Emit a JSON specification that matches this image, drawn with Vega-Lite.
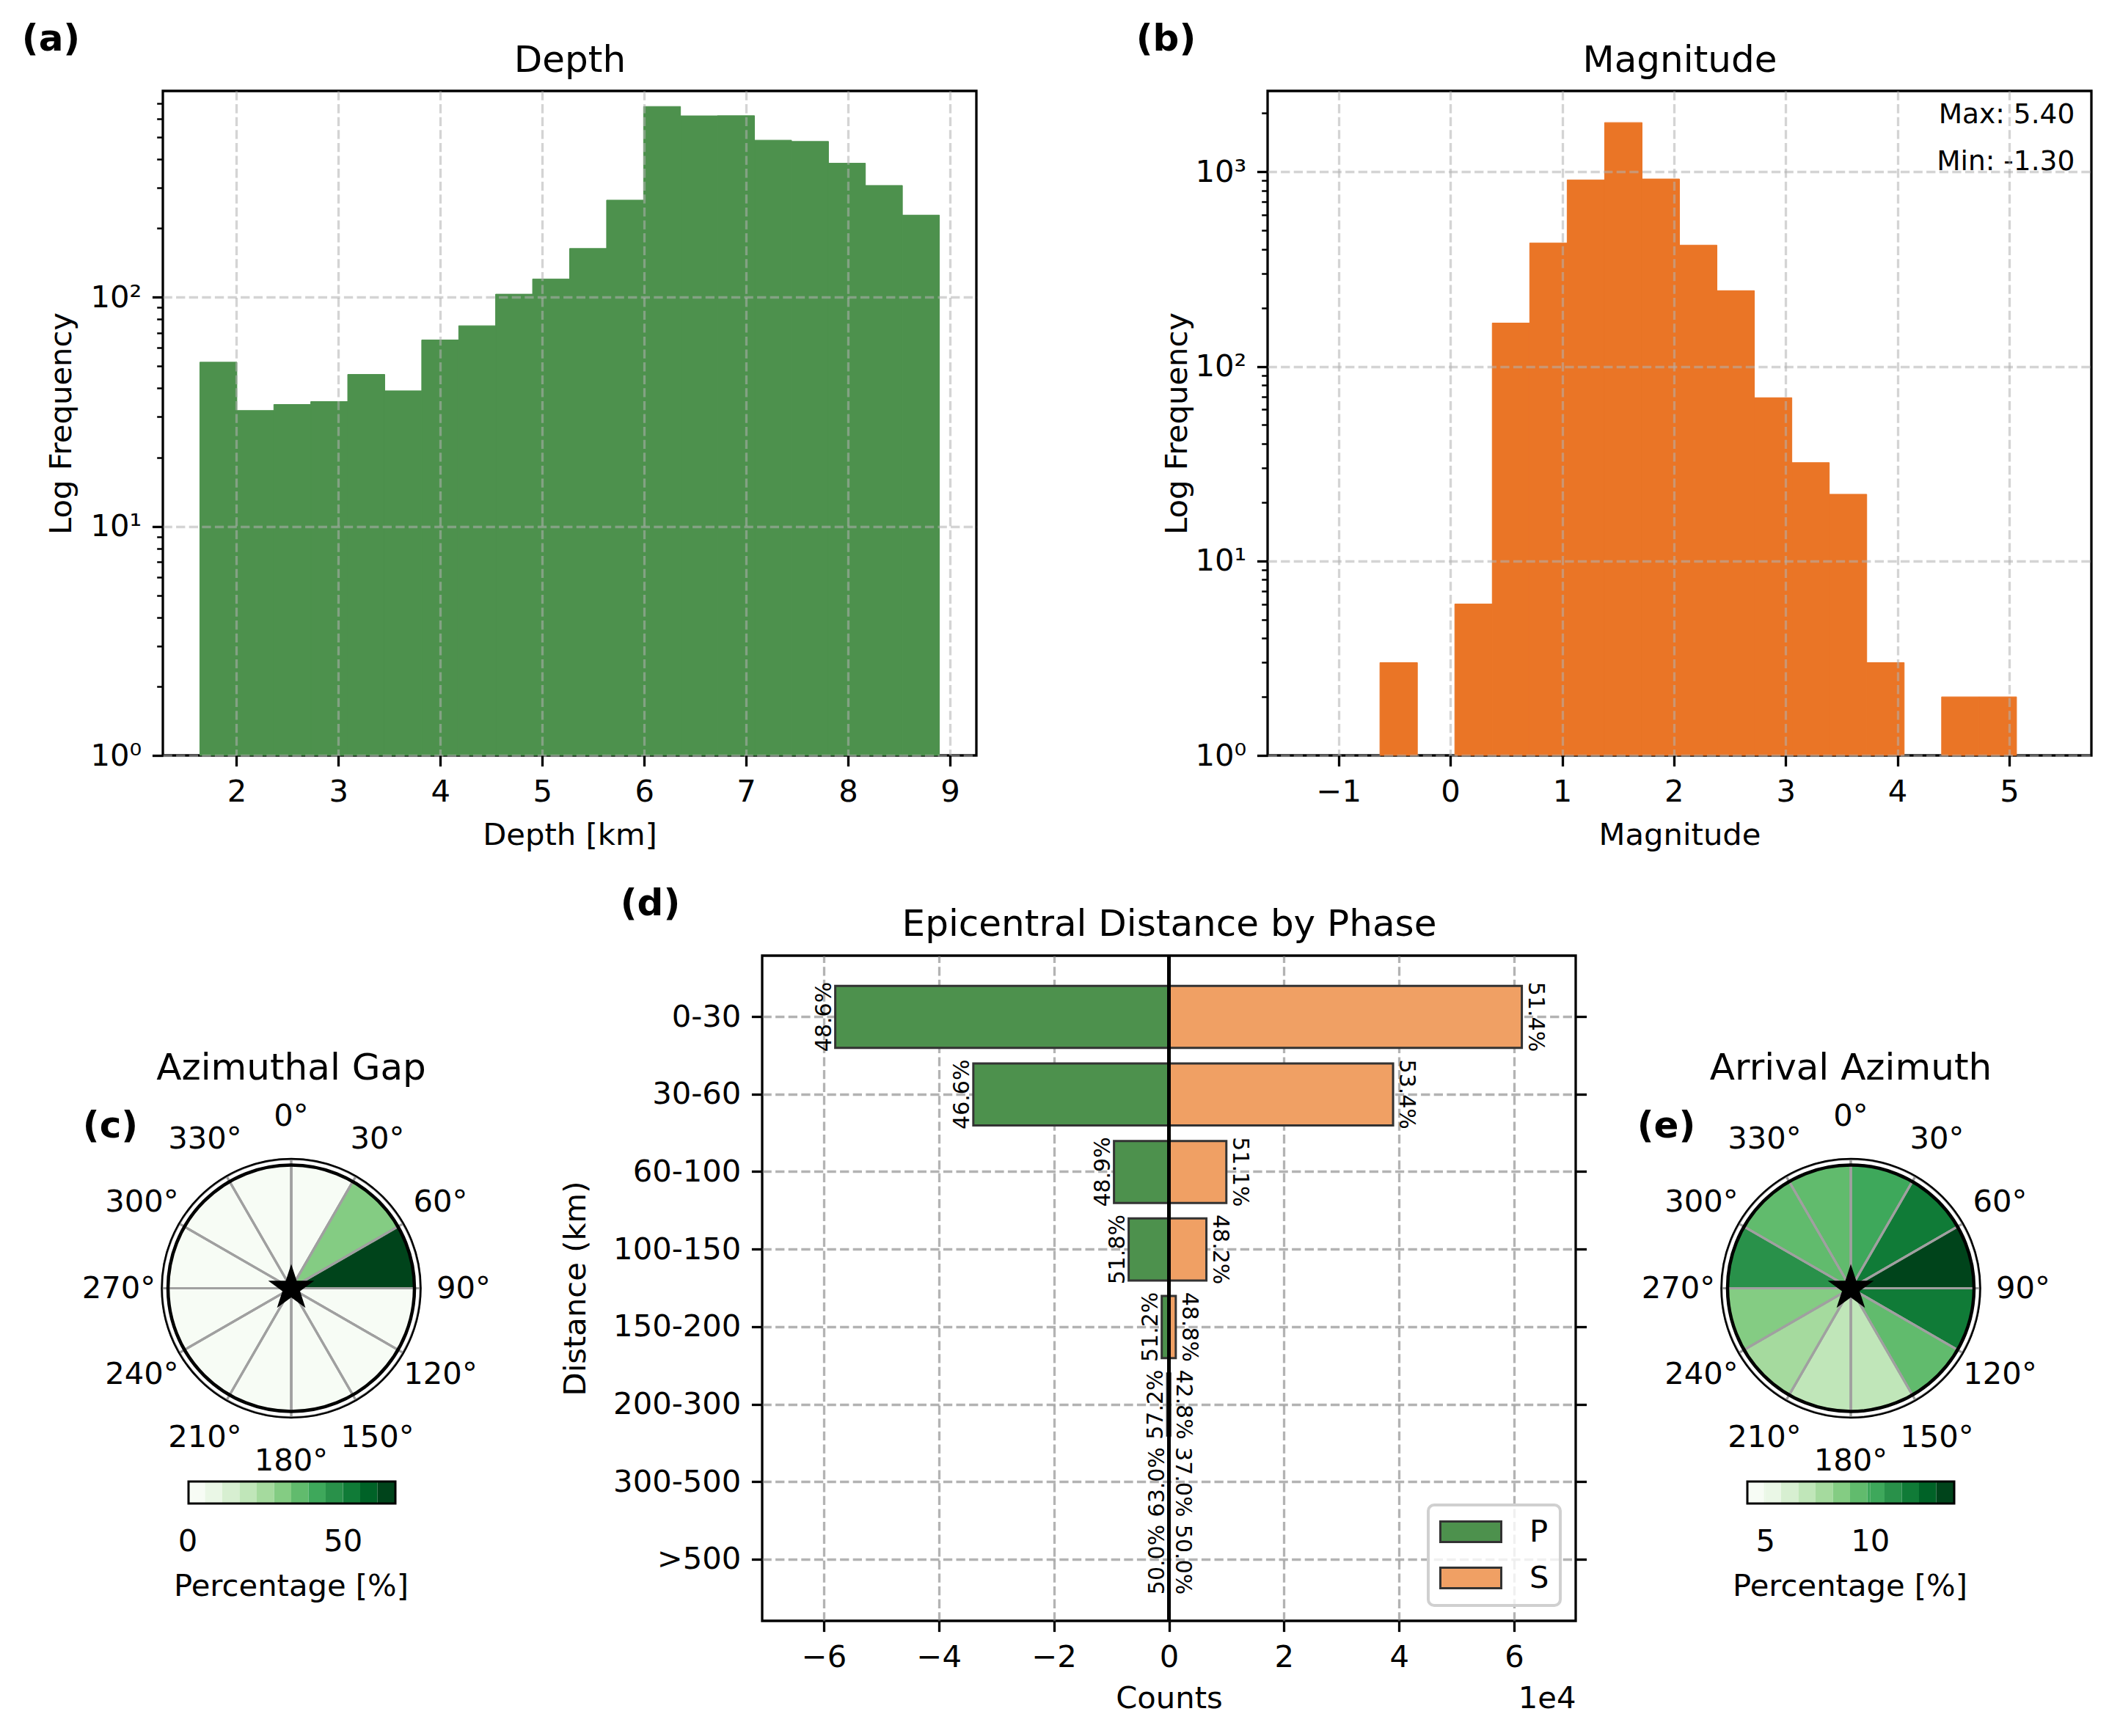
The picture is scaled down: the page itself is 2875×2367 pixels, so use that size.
{
  "$schema": "https://vega.github.io/schema/vega-lite/v6.json",
  "background": "white",
  "padding": {"left": 27, "top": 26, "right": 10, "bottom": 10},
  "datasets": {
    "depth": [
      {"bin_start": 1.640, "bin_end": 2.003, "count": 52},
      {"bin_start": 2.003, "bin_end": 2.366, "count": 32},
      {"bin_start": 2.366, "bin_end": 2.728, "count": 34},
      {"bin_start": 2.728, "bin_end": 3.091, "count": 35},
      {"bin_start": 3.091, "bin_end": 3.454, "count": 46},
      {"bin_start": 3.454, "bin_end": 3.817, "count": 39},
      {"bin_start": 3.817, "bin_end": 4.180, "count": 65},
      {"bin_start": 4.180, "bin_end": 4.542, "count": 75},
      {"bin_start": 4.542, "bin_end": 4.905, "count": 103},
      {"bin_start": 4.905, "bin_end": 5.268, "count": 120},
      {"bin_start": 5.268, "bin_end": 5.631, "count": 163},
      {"bin_start": 5.631, "bin_end": 5.994, "count": 265},
      {"bin_start": 5.994, "bin_end": 6.356, "count": 679},
      {"bin_start": 6.356, "bin_end": 6.719, "count": 618},
      {"bin_start": 6.719, "bin_end": 7.082, "count": 619},
      {"bin_start": 7.082, "bin_end": 7.445, "count": 484},
      {"bin_start": 7.445, "bin_end": 7.808, "count": 478},
      {"bin_start": 7.808, "bin_end": 8.170, "count": 384},
      {"bin_start": 8.170, "bin_end": 8.533, "count": 307},
      {"bin_start": 8.533, "bin_end": 8.896, "count": 228}
    ],
    "mag": [
      {"bin_start": -1.300, "bin_end": -0.965, "count": 1},
      {"bin_start": -0.630, "bin_end": -0.295, "count": 3},
      {"bin_start": 0.040, "bin_end": 0.375, "count": 6},
      {"bin_start": 0.375, "bin_end": 0.710, "count": 167},
      {"bin_start": 0.710, "bin_end": 1.045, "count": 431},
      {"bin_start": 1.045, "bin_end": 1.380, "count": 909},
      {"bin_start": 1.380, "bin_end": 1.715, "count": 1792},
      {"bin_start": 1.715, "bin_end": 2.050, "count": 919},
      {"bin_start": 2.050, "bin_end": 2.385, "count": 420},
      {"bin_start": 2.385, "bin_end": 2.720, "count": 245},
      {"bin_start": 2.720, "bin_end": 3.055, "count": 69},
      {"bin_start": 3.055, "bin_end": 3.390, "count": 32},
      {"bin_start": 3.390, "bin_end": 3.725, "count": 22},
      {"bin_start": 3.725, "bin_end": 4.060, "count": 3},
      {"bin_start": 4.395, "bin_end": 4.730, "count": 2},
      {"bin_start": 4.730, "bin_end": 5.065, "count": 2},
      {"bin_start": 5.065, "bin_end": 5.400, "count": 1}
    ],
    "dist": [
      {"range": "0-30", "phase": "P", "count": -58000, "pct": "48.6%"},
      {"range": "0-30", "phase": "S", "count": 61340, "pct": "51.4%"},
      {"range": "30-60", "phase": "P", "count": -34000, "pct": "46.6%"},
      {"range": "30-60", "phase": "S", "count": 38960, "pct": "53.4%"},
      {"range": "60-100", "phase": "P", "count": -9550, "pct": "48.9%"},
      {"range": "60-100", "phase": "S", "count": 9980, "pct": "51.1%"},
      {"range": "100-150", "phase": "P", "count": -7000, "pct": "51.8%"},
      {"range": "100-150", "phase": "S", "count": 6510, "pct": "48.2%"},
      {"range": "150-200", "phase": "P", "count": -1250, "pct": "51.2%"},
      {"range": "150-200", "phase": "S", "count": 1190, "pct": "48.8%"},
      {"range": "200-300", "phase": "P", "count": -300, "pct": "57.2%"},
      {"range": "200-300", "phase": "S", "count": 224, "pct": "42.8%"},
      {"range": "300-500", "phase": "P", "count": -63, "pct": "63.0%"},
      {"range": "300-500", "phase": "S", "count": 37, "pct": "37.0%"},
      {"range": ">500", "phase": "P", "count": -2, "pct": "50.0%"},
      {"range": ">500", "phase": "S", "count": 2, "pct": "50.0%"}
    ],
    "gap": [
      {"a0": 0, "a1": 30, "pct": 0.4},
      {"a0": 30, "a1": 60, "pct": 30.3},
      {"a0": 60, "a1": 90, "pct": 66.6},
      {"a0": 90, "a1": 120, "pct": 0.6},
      {"a0": 120, "a1": 150, "pct": 0.5},
      {"a0": 150, "a1": 180, "pct": 0.3},
      {"a0": 180, "a1": 210, "pct": 0.4},
      {"a0": 210, "a1": 240, "pct": 0.3},
      {"a0": 240, "a1": 270, "pct": 0.3},
      {"a0": 270, "a1": 300, "pct": 0.2},
      {"a0": 300, "a1": 330, "pct": 0.0},
      {"a0": 330, "a1": 360, "pct": 0.0}
    ],
    "az": [
      {"a0": 0, "a1": 30, "pct": 10.2},
      {"a0": 30, "a1": 60, "pct": 11.9},
      {"a0": 60, "a1": 90, "pct": 13.96},
      {"a0": 90, "a1": 120, "pct": 12.0},
      {"a0": 120, "a1": 150, "pct": 9.3},
      {"a0": 150, "a1": 180, "pct": 6.9},
      {"a0": 180, "a1": 210, "pct": 7.0},
      {"a0": 210, "a1": 240, "pct": 7.8},
      {"a0": 240, "a1": 270, "pct": 8.6},
      {"a0": 270, "a1": 300, "pct": 11.1},
      {"a0": 300, "a1": 330, "pct": 9.4},
      {"a0": 330, "a1": 360, "pct": 9.5}
    ],
    "angles": [
      {"angle": 0, "label": "0°"}, {"angle": 30, "label": "30°"}, {"angle": 60, "label": "60°"},
      {"angle": 90, "label": "90°"}, {"angle": 120, "label": "120°"}, {"angle": 150, "label": "150°"},
      {"angle": 180, "label": "180°"}, {"angle": 210, "label": "210°"}, {"angle": 240, "label": "240°"},
      {"angle": 270, "label": "270°"}, {"angle": 300, "label": "300°"}, {"angle": 330, "label": "330°"}
    ],
    "one": [{}]
  },
  "config": {
    "font": "DejaVu Sans",
    "view": {"stroke": "black", "strokeWidth": 3.3},
    "axis": {
      "labelFont": "DejaVu Sans", "labelFontSize": 41.7, "labelColor": "black",
      "titleFont": "DejaVu Sans", "titleFontSize": 41.7, "titleFontWeight": "normal", "titleColor": "black",
      "tickColor": "black", "tickWidth": 3.3, "tickSize": 14.6, "labelPadding": 14.6,
      "domain": false, "labelFlush": false, "labelOverlap": false, "labelLimit": 0,
      "gridDash": [12.3, 5.3], "gridWidth": 3.3
    },
    "legend": {
      "labelFont": "DejaVu Sans", "titleFont": "DejaVu Sans", "labelColor": "black", "titleColor": "black",
      "labelFontSize": 41.7, "titleFontSize": 41.7, "titleFontWeight": "normal", "labelLimit": 0, "titleLimit": 0,
      "strokeWidth": 4
    },
    "title": {"font": "DejaVu Sans", "fontSize": 50, "fontWeight": "normal", "color": "black"},
    "text": {"font": "DejaVu Sans", "color": "black"}
  },
  "spacing": 43,
  "resolve": {"scale": {"color": "independent", "fill": "independent"}, "legend": {"color": "independent", "fill": "independent"}},
  "vconcat": [
    {
      "spacing": 213,
      "hconcat": [
        {
          "width": 1109, "height": 906,
          "data": {"name": "depth"},
          "layer": [
            {
              "mark": {"type": "bar", "color": "#4d914d", "stroke": "#4d914d", "strokeWidth": 1},
              "encoding": {
                "x": {"field": "bin_start", "type": "quantitative",
                  "scale": {"domain": [1.277, 9.259], "nice": false, "zero": false},
                  "axis": {"orient": "bottom", "values": [2, 3, 4, 5, 6, 7, 8, 9], "format": "d",
                    "title": "Depth [km]", "titleX": 554.5, "titleY": 108, "titleAlign": "center", "titleBaseline": "middle",
                    "grid": true, "gridColor": "#b0b0b0", "gridOpacity": 0.55, "zindex": 1}},
                "x2": {"field": "bin_end"},
                "y": {"field": "count", "type": "quantitative",
                  "scale": {"type": "log", "domain": [1, 794], "nice": false},
                  "axis": {"orient": "left", "values": [1, 10, 100],
                    "labelExpr": "datum.value === 1 ? '10⁰' : datum.value === 10 ? '10¹' : datum.value === 100 ? '10²' : datum.value === 1000 ? '10³' : ''",
                    "title": "Log Frequency", "titleX": -139, "titleY": 453, "titleAngle": -90, "titleAlign": "center", "titleBaseline": "middle",
                    "grid": true, "gridColor": "#b0b0b0", "gridOpacity": 0.55, "zindex": 1}},
                "y2": {"datum": 1}
              }
            },
            {
              "mark": {"type": "bar", "opacity": 0},
              "encoding": {
                "x": {"field": "bin_start", "type": "quantitative",
                  "axis": {"orient": "top", "labels": false, "ticks": false, "grid": false,
                    "title": "Depth", "titleFontSize": 50, "titleX": 554.5, "titleY": -42, "titleAlign": "center", "titleBaseline": "middle"}},
                "x2": {"field": "bin_end"},
                "y": {"field": "count", "type": "quantitative",
                  "axis": {"orient": "left", "values": [2, 3, 4, 5, 6, 7, 8, 9, 20, 30, 40, 50, 60, 70, 80, 90, 200, 300, 400, 500, 600, 700],
                    "labels": false, "grid": false, "tickSize": 8.3, "tickWidth": 2.5,
                    "title": "(a)", "titleFontSize": 50, "titleFontWeight": "bold", "titleAngle": 0,
                    "titleX": -153, "titleY": -71, "titleAlign": "center", "titleBaseline": "middle"}},
                "y2": {"datum": 1}
              }
            }
          ],
          "resolve": {"axis": {"x": "independent", "y": "independent"}}
        },
        {
          "width": 1123, "height": 906,
          "layer": [
            {
              "data": {"name": "mag"},
              "transform": [{"filter": "datum.count > 1"}],
              "mark": {"type": "bar", "color": "#ea7526", "stroke": "#ea7526", "strokeWidth": 1},
              "encoding": {
                "x": {"field": "bin_start", "type": "quantitative",
                  "scale": {"domain": [-1.635, 5.735], "nice": false, "zero": false},
                  "axis": {"orient": "bottom", "values": [-1, 0, 1, 2, 3, 4, 5], "format": "d",
                    "title": "Magnitude", "titleX": 561.5, "titleY": 108, "titleAlign": "center", "titleBaseline": "middle",
                    "grid": true, "gridColor": "#b0b0b0", "gridOpacity": 0.55, "zindex": 1}},
                "x2": {"field": "bin_end"},
                "y": {"field": "count", "type": "quantitative",
                  "scale": {"type": "log", "domain": [1, 2606], "nice": false},
                  "axis": {"orient": "left", "values": [1, 10, 100, 1000],
                    "labelExpr": "datum.value === 1 ? '10⁰' : datum.value === 10 ? '10¹' : datum.value === 100 ? '10²' : datum.value === 1000 ? '10³' : ''",
                    "title": "Log Frequency", "titleX": -124, "titleY": 453, "titleAngle": -90, "titleAlign": "center", "titleBaseline": "middle",
                    "grid": true, "gridColor": "#b0b0b0", "gridOpacity": 0.55, "zindex": 1}},
                "y2": {"datum": 1}
              }
            },
            {
              "data": {"name": "mag"},
              "mark": {"type": "bar", "opacity": 0},
              "encoding": {
                "x": {"field": "bin_start", "type": "quantitative",
                  "axis": {"orient": "top", "labels": false, "ticks": false, "grid": false,
                    "title": "Magnitude", "titleFontSize": 50, "titleX": 561.5, "titleY": -42, "titleAlign": "center", "titleBaseline": "middle"}},
                "x2": {"field": "bin_end"},
                "y": {"field": "count", "type": "quantitative",
                  "axis": {"orient": "left", "values": [2, 3, 4, 5, 6, 7, 8, 9, 20, 30, 40, 50, 60, 70, 80, 90, 200, 300, 400, 500, 600, 700, 800, 900, 2000],
                    "labels": false, "grid": false, "tickSize": 8.3, "tickWidth": 2.5,
                    "title": "(b)", "titleFontSize": 50, "titleFontWeight": "bold", "titleAngle": 0,
                    "titleX": -139, "titleY": -71, "titleAlign": "center", "titleBaseline": "middle"}},
                "y2": {"datum": 1}
              }
            },
            {
              "data": {"name": "one"},
              "mark": {"type": "text", "text": "Max: 5.40", "fontSize": 37.5, "align": "right", "baseline": "middle"},
              "encoding": {
                "x": {"datum": 5.586, "type": "quantitative", "axis": null},
                "y": {"datum": 1960, "type": "quantitative", "axis": null}
              }
            },
            {
              "data": {"name": "one"},
              "mark": {"type": "text", "text": "Min: -1.30", "fontSize": 37.5, "align": "right", "baseline": "middle"},
              "encoding": {
                "x": {"datum": 5.586, "type": "quantitative", "axis": null},
                "y": {"datum": 1122, "type": "quantitative", "axis": null}
              }
            }
          ],
          "resolve": {"axis": {"x": "independent", "y": "independent"}}
        }
      ]
    },
    {
      "spacing": 93,
      "resolve": {"scale": {"color": "independent", "fill": "independent"}, "legend": {"color": "independent", "fill": "independent"}},
      "hconcat": [
        {
          "width": 350, "height": 907,
          "view": {"stroke": null},
          "title": {"text": "Azimuthal Gap", "offset": -204, "baseline": "middle", "anchor": "middle", "frame": "group", "fontSize": 50},
          "layer": [
            {
              "data": {"name": "gap"},
              "mark": {"type": "arc", "radius": 168, "stroke": "#a0a0a0", "strokeWidth": 3},
              "encoding": {
                "theta": {"field": "a0", "type": "quantitative", "stack": null, "scale": {"domain": [0, 360], "range": [0, 6.283185307179586]}},
                "theta2": {"field": "a1"},
                "color": {"field": "pct", "type": "quantitative",
                  "scale": {"type": "quantize", "domain": [0, 66.6], "range": ["#f7fcf5","#eaf7e6","#d7efd1","#c0e6b9","#a5da9e","#84cc83","#61bb6d","#3ea85b","#29914a","#107b37","#006227","#00441b"]},
                  "legend": {"type": "gradient", "orient": "none", "legendX": 15, "legendY": 717, "direction": "horizontal",
                    "gradientLength": 282, "gradientThickness": 30, "gradientStrokeWidth": 0,
                    "values": [0, 0.0001, 5.5501, 11.1001, 16.6501, 22.2001, 27.7501, 33.3001, 38.8501, 44.4001, 49.9501, 50, 55.5001, 61.0501],
                    "labelExpr": "datum.value > 0 && datum.value < 0.01 ? '0' : datum.value === 50 ? '50' : ''",
                    "labelAlign": "center", "labelOffset": 32,
                    "title": "Percentage [%]", "titleOrient": "bottom", "titleAnchor": "middle", "titlePadding": 19, "titleBaseline": "top", "padding": 0}}
              }
            },
            {
              "data": {"name": "gap"},
              "mark": {"type": "arc", "radius": 0},
              "encoding": {
                "theta": {"field": "a0", "type": "quantitative", "stack": null},
                "theta2": {"field": "a1"},
                "fill": {"field": "pct", "type": "quantitative",
                  "scale": {"domain": [0, 66.6], "range": ["rgba(0,0,0,0)", "rgba(0,0,0,0)"]},
                  "legend": {"type": "gradient", "orient": "none", "legendX": 35, "legendY": 717, "direction": "horizontal",
                    "gradientLength": 282, "gradientThickness": 30, "gradientStrokeColor": "black", "gradientStrokeWidth": 3,
                    "values": [0, 66.6], "labelExpr": "''", "title": null, "padding": 0}}
              }
            },
            {
              "data": {"name": "gap"},
              "mark": {"type": "arc", "radius": 176, "fill": null, "stroke": "#a0a0a0", "strokeWidth": 3},
              "encoding": {
                "theta": {"field": "a0", "type": "quantitative", "stack": null},
                "theta2": {"field": "a1"}
              }
            },
            {
              "data": {"name": "one"},
              "mark": {"type": "arc", "radius": 168, "theta": 0, "theta2": 6.2832, "fill": null, "stroke": "black", "strokeWidth": 4.5},
              "encoding": {}
            },
            {
              "data": {"name": "one"},
              "mark": {"type": "arc", "radius": 176.5, "theta": 0, "theta2": 6.2832, "fill": null, "stroke": "black", "strokeWidth": 2.5},
              "encoding": {}
            },
            {
              "data": {"name": "angles"},
              "mark": {"type": "text", "radius": 235, "fontSize": 41.7, "align": "center", "baseline": "middle"},
              "encoding": {
                "theta": {"field": "angle", "type": "quantitative", "stack": null},
                "text": {"field": "label"}
              }
            },
            {
              "data": {"name": "one"},
              "mark": {"type": "point", "shape": "M0,-1L0.2245,-0.309L0.9511,-0.309L0.3633,0.118L0.5878,0.809L0,0.382L-0.5878,0.809L-0.3633,0.118L-0.9511,-0.309L-0.2245,-0.309Z", "size": 4356, "filled": true, "color": "black", "opacity": 1},
              "encoding": {
                "x": {"datum": 0, "type": "quantitative", "scale": {"domain": [-1, 1]}, "axis": null},
                "y": {"datum": 0, "type": "quantitative", "scale": {"domain": [-1, 1]},
                  "axis": {"orient": "left", "labels": false, "ticks": false, "grid": false,
                    "title": "(c)", "titleFontSize": 50, "titleFontWeight": "bold", "titleAngle": 0,
                    "titleX": -72, "titleY": 232, "titleAlign": "center", "titleBaseline": "middle"}}
              }
            }
          ],
          "resolve": {"scale": {"color": "independent", "fill": "independent"}}
        },
        {
          "spacing": 65,
          "resolve": {"scale": {"color": "independent", "fill": "independent"}, "legend": {"color": "independent", "fill": "independent"}},
          "hconcat": [
            {
              "width": 1109, "height": 907,
              "data": {"name": "dist"},
              "layer": [
                {
                  "mark": {"type": "bar", "stroke": "#333333", "strokeWidth": 3},
                  "encoding": {
                    "x": {"field": "count", "type": "quantitative",
                      "scale": {"domain": [-70700, 70700], "nice": false, "zero": false},
                      "axis": {"orient": "bottom", "values": [-60000, -40000, -20000, 0, 20000, 40000, 60000],
                        "labelExpr": "format(datum.value / 10000, 'd')",
                        "title": "Counts", "titleX": 554.5, "titleY": 105, "titleAlign": "center", "titleBaseline": "middle",
                        "grid": true, "gridColor": "#808080", "gridOpacity": 0.6, "zindex": 0}},
                    "y": {"field": "range", "type": "nominal",
                      "scale": {"domain": ["0-30", "30-60", "60-100", "100-150", "150-200", "200-300", "300-500", ">500"], "paddingInner": 0.2, "paddingOuter": 0.39},
                      "axis": {"orient": "left", "title": "Distance (km)", "titleX": -255, "titleY": 453.5, "titleAngle": -90, "titleAlign": "center", "titleBaseline": "middle",
                        "grid": true, "gridColor": "#808080", "gridOpacity": 0.6, "zindex": 0}},
                    "color": {"field": "phase", "type": "nominal",
                      "scale": {"domain": ["P", "S"], "range": ["#4d914d", "#f0a064"]},
                      "legend": {"orient": "bottom-right", "offset": 21, "title": null,
                        "symbolType": "M-1,-0.7H3.15V0.7H-1Z", "symbolSize": 1600, "symbolStrokeColor": "#333333", "symbolStrokeWidth": 3,
                        "symbolOpacity": 1, "labelOffset": 80, "rowPadding": 19, "padding": 15,
                        "strokeColor": "#d0d0d0", "cornerRadius": 8, "fillColor": "rgba(255,255,255,0.8)"}}
                  }
                },
                {
                  "mark": {"type": "rule", "color": "black", "strokeWidth": 4.2},
                  "encoding": {"x": {"datum": 0, "type": "quantitative", "axis": null}}
                },
                {
                  "transform": [{"filter": "datum.phase === 'P'"}],
                  "mark": {"type": "text", "angle": 270, "align": "center", "baseline": "bottom", "fontSize": 30},
                  "encoding": {
                    "x": {"field": "count", "type": "quantitative", "axis": null},
                    "y": {"field": "range", "type": "nominal", "axis": null},
                    "text": {"field": "pct"}
                  }
                },
                {
                  "transform": [{"filter": "datum.phase === 'S'"}],
                  "mark": {"type": "text", "angle": 90, "align": "center", "baseline": "bottom", "fontSize": 30, "xOffset": 3},
                  "encoding": {
                    "x": {"field": "count", "type": "quantitative", "axis": null},
                    "y": {"field": "range", "type": "nominal", "axis": null},
                    "text": {"field": "pct"}
                  }
                },
                {
                  "mark": {"type": "bar", "opacity": 0},
                  "encoding": {
                    "x": {"field": "count", "type": "quantitative",
                      "axis": {"orient": "top", "labels": false, "ticks": false, "grid": false,
                        "title": "Epicentral Distance by Phase", "titleFontSize": 50, "titleX": 554.5, "titleY": -43, "titleAlign": "center", "titleBaseline": "middle"}},
                    "y": {"field": "range", "type": "nominal",
                      "axis": {"orient": "right", "labels": false, "grid": false, "title": null}}
                  }
                },
                {
                  "mark": {"type": "bar", "opacity": 0},
                  "encoding": {
                    "x": {"field": "count", "type": "quantitative",
                      "axis": {"orient": "bottom", "labels": false, "ticks": false, "grid": false,
                        "title": "1e4", "titleX": 1109, "titleY": 105, "titleAlign": "right", "titleBaseline": "middle"}},
                    "y": {"field": "range", "type": "nominal",
                      "axis": {"orient": "left", "labels": false, "ticks": false, "grid": false,
                        "title": "(d)", "titleFontSize": 50, "titleFontWeight": "bold", "titleAngle": 0,
                        "titleX": -153, "titleY": -71, "titleAlign": "center", "titleBaseline": "middle"}}
                  }
                }
              ],
              "resolve": {"axis": {"x": "independent", "y": "independent"}}
            },
            {
              "width": 350, "height": 907,
              "view": {"stroke": null},
              "title": {"text": "Arrival Azimuth", "offset": -204, "baseline": "middle", "anchor": "middle", "frame": "group", "fontSize": 50},
              "layer": [
                {
                  "data": {"name": "az"},
                  "mark": {"type": "arc", "radius": 168, "stroke": "#a0a0a0", "strokeWidth": 3},
                  "encoding": {
                    "theta": {"field": "a0", "type": "quantitative", "stack": null, "scale": {"domain": [0, 360], "range": [0, 6.283185307179586]}},
                    "theta2": {"field": "a1"},
                    "color": {"field": "pct", "type": "quantitative",
                      "scale": {"type": "quantize", "domain": [4.1, 13.96], "range": ["#f7fcf5","#eaf7e6","#d7efd1","#c0e6b9","#a5da9e","#84cc83","#61bb6d","#3ea85b","#29914a","#107b37","#006227","#00441b"]},
                      "legend": {"type": "gradient", "orient": "none", "legendX": 14, "legendY": 717, "direction": "horizontal",
                        "gradientLength": 282, "gradientThickness": 30, "gradientStrokeWidth": 0,
                        "values": [4.1, 4.1, 4.9217, 5, 5.7434, 6.5651, 7.3867, 8.2084, 9.0301, 9.8517, 10, 10.6734, 11.4951, 12.3167, 13.1384],
                        "labelExpr": "datum.value === 5 ? '5' : datum.value === 10 ? '10' : ''",
                        "labelAlign": "center", "labelOffset": 32,
                        "title": "Percentage [%]", "titleOrient": "bottom", "titleAnchor": "middle", "titlePadding": 19, "titleBaseline": "top", "padding": 0}}
                  }
                },
                {
                  "data": {"name": "az"},
                  "mark": {"type": "arc", "radius": 0},
                  "encoding": {
                    "theta": {"field": "a0", "type": "quantitative", "stack": null},
                    "theta2": {"field": "a1"},
                    "fill": {"field": "pct", "type": "quantitative",
                      "scale": {"domain": [4.1, 13.96], "range": ["rgba(0,0,0,0)", "rgba(0,0,0,0)"]},
                      "legend": {"type": "gradient", "orient": "none", "legendX": 34, "legendY": 717, "direction": "horizontal",
                        "gradientLength": 282, "gradientThickness": 30, "gradientStrokeColor": "black", "gradientStrokeWidth": 3,
                        "values": [4.1, 13.96], "labelExpr": "''", "title": null, "padding": 0}}
                  }
                },
                {
                  "data": {"name": "az"},
                  "mark": {"type": "arc", "radius": 176, "fill": null, "stroke": "#a0a0a0", "strokeWidth": 3},
                  "encoding": {
                    "theta": {"field": "a0", "type": "quantitative", "stack": null},
                    "theta2": {"field": "a1"}
                  }
                },
                {
                  "data": {"name": "one"},
                  "mark": {"type": "arc", "radius": 168, "theta": 0, "theta2": 6.2832, "fill": null, "stroke": "black", "strokeWidth": 4.5},
                  "encoding": {}
                },
                {
                  "data": {"name": "one"},
                  "mark": {"type": "arc", "radius": 176.5, "theta": 0, "theta2": 6.2832, "fill": null, "stroke": "black", "strokeWidth": 2.5},
                  "encoding": {}
                },
                {
                  "data": {"name": "angles"},
                  "mark": {"type": "text", "radius": 235, "fontSize": 41.7, "align": "center", "baseline": "middle"},
                  "encoding": {
                    "theta": {"field": "angle", "type": "quantitative", "stack": null},
                    "text": {"field": "label"}
                  }
                },
                {
                  "data": {"name": "one"},
                  "mark": {"type": "point", "shape": "M0,-1L0.2245,-0.309L0.9511,-0.309L0.3633,0.118L0.5878,0.809L0,0.382L-0.5878,0.809L-0.3633,0.118L-0.9511,-0.309L-0.2245,-0.309Z", "size": 4356, "filled": true, "color": "black", "opacity": 1},
                  "encoding": {
                    "x": {"datum": 0, "type": "quantitative", "scale": {"domain": [-1, 1]}, "axis": null},
                    "y": {"datum": 0, "type": "quantitative", "scale": {"domain": [-1, 1]},
                      "axis": {"orient": "left", "labels": false, "ticks": false, "grid": false,
                        "title": "(e)", "titleFontSize": 50, "titleFontWeight": "bold", "titleAngle": 0,
                        "titleX": -77, "titleY": 232, "titleAlign": "center", "titleBaseline": "middle"}}
                  }
                }
              ],
              "resolve": {"scale": {"color": "independent", "fill": "independent"}}
            }
          ]
        }
      ]
    }
  ]
}
